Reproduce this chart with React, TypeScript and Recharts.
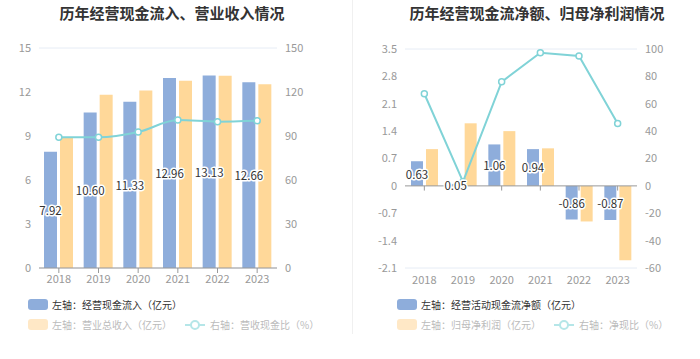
import { ComposedChart, Bar, Line, XAxis, YAxis, CartesianGrid, ReferenceLine, LabelList } from 'recharts';

const years = ['2018', '2019', '2020', '2021', '2022', '2023'];

// left chart
const cashInflow = [7.92, 10.6, 11.33, 12.96, 13.13, 12.66];
const revenue = [8.9, 11.82, 12.1, 12.76, 13.1, 12.53];
const cashRatio = [89.1, 89.1, 92.7, 100.9, 99.8, 100.4];

// right chart
const netCashFlow = [0.63, 0.05, 1.06, 0.94, -0.86, -0.87];
const netProfit = [0.94, 1.6, 1.4, 0.96, -0.91, -1.9];
const netRatio = [67.3, 3.1, 76, 97.3, 94.9, 45.5];

const leftTicksL = [0, 3, 6, 9, 12, 15];
const leftTicksR = [0, 30, 60, 90, 120, 150];
const rightTicksL = [-2.1, -1.4, -0.7, 0, 0.7, 1.4, 2.1, 2.8, 3.5];
const rightTicksR = [-60, -40, -20, 0, 20, 40, 60, 80, 100];

const leftData = years.map((y, i) => ({ year: y, inflow: cashInflow[i], revenue: revenue[i], ratio: cashRatio[i] }));
const rightData = years.map((y, i) => ({ year: y, net: netCashFlow[i], profit: netProfit[i], ratio: netRatio[i] }));

const BLUE = '#8eaddb';
const ORANGE = '#ffd899';
const CYAN = '#80d3d7';
const FONT = '"Noto Sans CJK SC", "Noto Sans", sans-serif';
const tickStyle = { fill: '#999', fontSize: 11 };

const barLabel = (props: any) => {
  const { x, y, width, height, value } = props;
  return (
    <text
      x={x + width / 2}
      y={y + height / 2}
      textAnchor="middle"
      dominantBaseline="central"
      fontSize={11.5}
      fill="#333"
      stroke="#fff"
      strokeWidth={3}
      strokeLinejoin="round"
      paintOrder="stroke"
    >
      {Number(value).toFixed(2)}
    </text>
  );
};

const fmt1 = (v: number) => (v === 0 ? '0' : v.toFixed(1));

function Swatch({ color }: { color: string }) {
  return <span style={{ display: 'inline-block', width: 20, height: 11, borderRadius: 3, background: color, marginRight: 4 }} />;
}

function LineIcon() {
  return (
    <svg width={20} height={12} style={{ marginRight: 5 }}>
      <line x1={0} y1={6} x2={20} y2={6} stroke="#b5e6e8" strokeWidth={2} />
      <circle cx={10} cy={6} r={4} fill="#fff" stroke="#b5e6e8" strokeWidth={2} />
    </svg>
  );
}

function Legend({ left, first, second, third }: { left: number; first: string; second: string; third: string }) {
  const row = { position: 'absolute' as const, left, display: 'flex', alignItems: 'center', fontSize: 10, whiteSpace: 'nowrap' as const };
  return (
    <>
      <div style={{ ...row, top: 297, color: '#333' }}>
        <Swatch color={BLUE} />
        {first}
      </div>
      <div style={{ ...row, top: 317, color: '#bbb' }}>
        <Swatch color="#ffe8c6" />
        <span style={{ marginRight: 13 }}>{second}</span>
        <LineIcon />
        {third}
      </div>
    </>
  );
}

export default function App() {
  return (
    <div style={{ position: 'absolute', left: 0, top: 0, width: 700, height: 359, background: '#fff', fontFamily: FONT }}>
      <div style={{ position: 'absolute', left: 0, width: 344, top: 2, textAlign: 'center', fontSize: 15, fontWeight: 'bold', color: '#333' }}>
        历年经营现金流入、营业收入情况
      </div>
      <div style={{ position: 'absolute', left: 352, width: 370, top: 2, textAlign: 'center', fontSize: 15, fontWeight: 'bold', color: '#333' }}>
        历年经营现金流净额、归母净利润情况
      </div>
      <div style={{ position: 'absolute', left: 352, top: 0, width: 1, height: 334, background: '#f0f0f0' }} />

      <div style={{ position: 'absolute', left: 0, top: 0 }}>
        <ComposedChart width={350} height={290} data={leftData} margin={{ top: 48, right: 0, bottom: 0, left: 0 }} barSize={13} barGap={3}>
          <CartesianGrid vertical={false} stroke="#e6ecf5" />
          <XAxis dataKey="year" height={22} tick={tickStyle} stroke="#999" tickSize={5} />
          <YAxis yAxisId="left" width={39} domain={[0, 15]} ticks={leftTicksL} tick={tickStyle} axisLine={false} tickLine={false} />
          <YAxis yAxisId="right" orientation="right" width={73} domain={[0, 150]} ticks={leftTicksR} tick={tickStyle} axisLine={false} tickLine={false} />
          <Bar yAxisId="left" dataKey="inflow" fill={BLUE} isAnimationActive={false}>
            <LabelList dataKey="inflow" content={barLabel} />
          </Bar>
          <Bar yAxisId="left" dataKey="revenue" fill={ORANGE} isAnimationActive={false} />
          <Line
            yAxisId="right"
            dataKey="ratio"
            type="monotone"
            stroke={CYAN}
            strokeWidth={2}
            dot={{ r: 3, fill: '#fff', stroke: CYAN, strokeWidth: 1.5 }}
            isAnimationActive={false}
          />
        </ComposedChart>
      </div>

      <div style={{ position: 'absolute', left: 350, top: 0 }}>
        <ComposedChart width={350} height={290} data={rightData} margin={{ top: 49, right: 0, bottom: 0, left: 0 }} barSize={12} barGap={3}>
          <CartesianGrid vertical={false} stroke="#e6ecf5" />
          <XAxis dataKey="year" height={22} tick={tickStyle} axisLine={false} tickLine={false} />
          <YAxis yAxisId="left" width={55} domain={[-2.1, 3.5]} ticks={rightTicksL} tickFormatter={fmt1} tick={tickStyle} axisLine={false} tickLine={false} />
          <YAxis yAxisId="right" orientation="right" width={63} domain={[-60, 100]} ticks={rightTicksR} tick={tickStyle} axisLine={false} tickLine={false} />
          <ReferenceLine yAxisId="left" y={0} stroke="#999" />
          {years.map((y) => (
            <ReferenceLine key={y} yAxisId="left" segment={[{ x: y, y: 0 }, { x: y, y: -0.12 }]} stroke="#999" />
          ))}
          <Bar yAxisId="left" dataKey="net" fill={BLUE} isAnimationActive={false}>
            <LabelList dataKey="net" content={barLabel} />
          </Bar>
          <Bar yAxisId="left" dataKey="profit" fill={ORANGE} isAnimationActive={false} />
          <Line
            yAxisId="right"
            dataKey="ratio"
            type="linear"
            stroke={CYAN}
            strokeWidth={2}
            dot={{ r: 3, fill: '#fff', stroke: CYAN, strokeWidth: 1.5 }}
            isAnimationActive={false}
          />
        </ComposedChart>
      </div>

      <Legend left={28} first="左轴：经营现金流入（亿元）" second="左轴：营业总收入（亿元）" third="右轴：营收现金比（%）" />
      <Legend left={397} first="左轴：经营活动现金流净额（亿元）" second="左轴：归母净利润（亿元）" third="右轴：净现比（%）" />
    </div>
  );
}
